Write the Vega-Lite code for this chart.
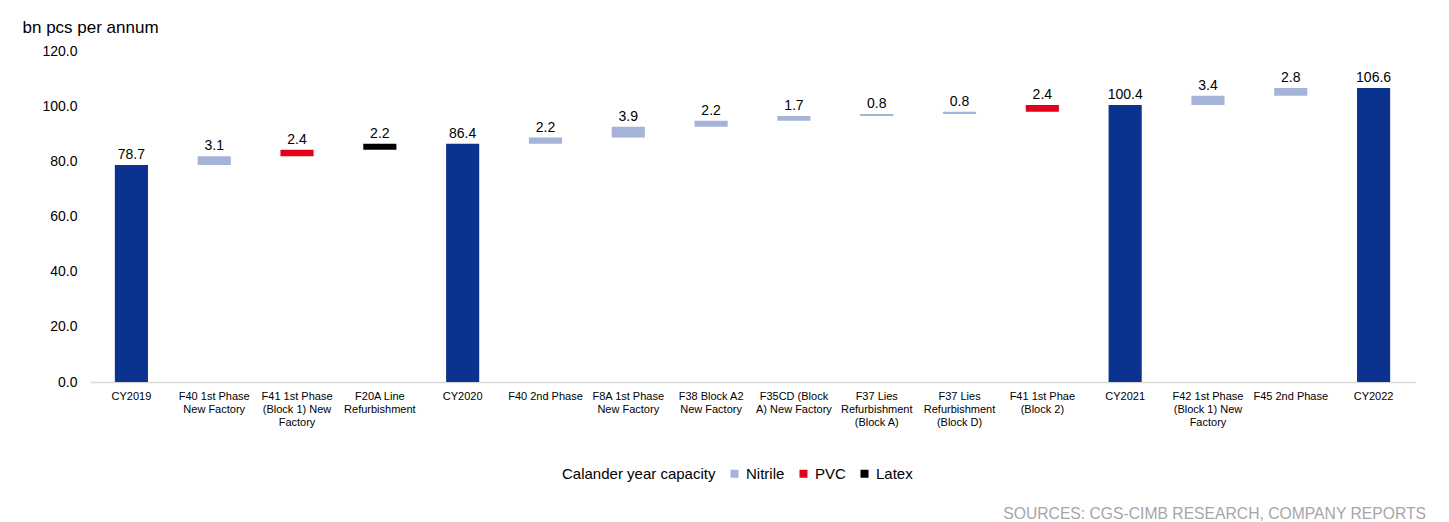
{
  "$schema": "https://vega.github.io/schema/vega-lite/v6.json",
  "width": 1325,
  "height": 331,
  "autosize": {"type": "none"},
  "padding": {"left": 90, "top": 51, "right": 34, "bottom": 140},
  "background": "white",
  "config": {
    "font": "Liberation Sans",
    "view": {"stroke": null}
  },
  "title": {
    "text": "SOURCES: CGS-CIMB RESEARCH, COMPANY REPORTS",
    "orient": "bottom",
    "anchor": "end",
    "frame": "group",
    "fontSize": 15.7,
    "fontWeight": "normal",
    "color": "#a6a6a6",
    "offset": 25,
    "dx": 11
  },
  "data": {
    "values": [
      {"cat": "CY2019", "start": 0, "end": 78.7, "value": 78.7, "type": "Calander year capacity"},
      {"cat": "F40 1st Phase|New Factory", "start": 78.7, "end": 81.8, "value": 3.1, "type": "Nitrile"},
      {"cat": "F41 1st Phase|(Block 1) New|Factory", "start": 81.8, "end": 84.2, "value": 2.4, "type": "PVC"},
      {"cat": "F20A Line|Refurbishment", "start": 84.2, "end": 86.4, "value": 2.2, "type": "Latex"},
      {"cat": "CY2020", "start": 0, "end": 86.4, "value": 86.4, "type": "Calander year capacity"},
      {"cat": "F40 2nd Phase", "start": 86.4, "end": 88.6, "value": 2.2, "type": "Nitrile"},
      {"cat": "F8A 1st Phase|New Factory", "start": 88.6, "end": 92.5, "value": 3.9, "type": "Nitrile"},
      {"cat": "F38 Block A2|New Factory", "start": 92.5, "end": 94.7, "value": 2.2, "type": "Nitrile"},
      {"cat": "F35CD (Block|A) New Factory", "start": 94.7, "end": 96.4, "value": 1.7, "type": "Nitrile"},
      {"cat": "F37 Lies|Refurbishment|(Block A)", "start": 96.4, "end": 97.2, "value": 0.8, "type": "Nitrile"},
      {"cat": "F37 Lies|Refurbishment|(Block D)", "start": 97.2, "end": 98.0, "value": 0.8, "type": "Nitrile"},
      {"cat": "F41 1st Phae|(Block 2)", "start": 98.0, "end": 100.4, "value": 2.4, "type": "PVC"},
      {"cat": "CY2021", "start": 0, "end": 100.4, "value": 100.4, "type": "Calander year capacity"},
      {"cat": "F42 1st Phase|(Block 1) New|Factory", "start": 100.4, "end": 103.8, "value": 3.4, "type": "Nitrile"},
      {"cat": "F45 2nd Phase", "start": 103.8, "end": 106.6, "value": 2.8, "type": "Nitrile"},
      {"cat": "CY2022", "start": 0, "end": 106.6, "value": 106.6, "type": "Calander year capacity"}
    ]
  },
  "encoding": {
    "x": {
      "field": "cat",
      "type": "nominal",
      "sort": null,
      "scale": {"paddingInner": 0.6, "paddingOuter": 0.3},
      "axis": {
        "title": null,
        "labelAngle": 0,
        "labelExpr": "split(datum.value, '|')",
        "labelFontSize": 11,
        "labelColor": "#000000",
        "labelLineHeight": 13,
        "labelPadding": 8,
        "labelBaseline": "top",
        "ticks": false,
        "domainColor": "#d9d9d9",
        "domainWidth": 1.5,
        "labelLimit": 200
      }
    }
  },
  "layer": [
    {
      "mark": {"type": "bar"},
      "encoding": {
        "y": {
          "field": "start",
          "type": "quantitative",
          "scale": {"domain": [0, 120], "nice": false},
          "axis": {
            "title": "bn pcs per annum",
            "titleAngle": 0,
            "titleAlign": "left",
            "titleBaseline": "middle",
            "titleX": -68,
            "titleY": -24,
            "titleFontSize": 17,
            "titleFontWeight": "normal",
            "titleColor": "#000000",
            "values": [0, 20, 40, 60, 80, 100, 120],
            "format": ".1f",
            "labelFontSize": 14,
            "labelColor": "#000000",
            "labelPadding": 13,
            "ticks": false,
            "domain": false,
            "grid": false
          }
        },
        "y2": {"field": "end"},
        "color": {
          "field": "type",
          "type": "nominal",
          "scale": {
            "domain": ["Calander year capacity", "Nitrile", "PVC", "Latex"],
            "range": ["#0c3290", "#a6b3d9", "#e3001b", "#000000"]
          },
          "legend": {
            "title": null,
            "orient": "none",
            "direction": "horizontal",
            "legendX": 453,
            "legendY": 415,
            "symbolType": "square",
            "symbolSize": 64,
            "labelFontSize": 15,
            "labelColor": "#000000",
            "labelOffset": 4,
            "columnPadding": 11,
            "symbolStrokeWidth": 0,
            "encode": {
              "symbols": {
                "enter": {
                  "opacity": {"signal": "datum.value === 'Calander year capacity' ? 0 : 1"}
                },
                "update": {
                  "opacity": {"signal": "datum.value === 'Calander year capacity' ? 0 : 1"}
                }
              }
            }
          }
        }
      }
    },
    {
      "mark": {"type": "text", "baseline": "bottom", "dy": -3, "fontSize": 14, "color": "#000000"},
      "encoding": {
        "y": {"field": "end", "type": "quantitative"},
        "text": {"field": "value", "type": "quantitative", "format": ".1f"}
      }
    }
  ]
}
